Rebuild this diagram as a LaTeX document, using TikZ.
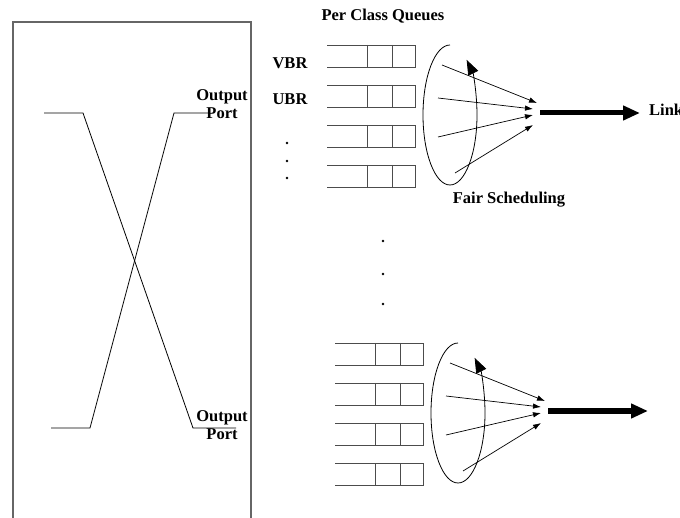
\documentclass[tikz,border=0pt]{standalone}
\usepackage{fontspec}
\setmainfont{Liberation Serif}
\usetikzlibrary{arrows.meta}

\tikzset{
    lbl/.style={font=\fontsize{16.5}{18}\selectfont\bfseries, inner sep=0pt},
    queue/.style={draw=black!70, line width=0.9pt},
    feed/.style={-{Latex[length=8pt,width=5.5pt]}, line width=0.7pt},
    rrarc/.style={line width=0.8pt, -{Triangle[length=15pt,width=11pt]}},
    linkarrow/.style={-{Triangle[length=17pt,width=14pt]}, line width=5pt},
}

\begin{document}
\begin{tikzpicture}[x=1pt,y=-1pt]
    \useasboundingbox (0,0) rectangle (680,518);
    % switch fabric
    \draw[draw=black!60, line width=1.3pt] (13,520) -- (13,22) -- (251,22) -- (251,520);
    \coordinate (inA) at (44,113);
    \coordinate (inB) at (51,428);
    \coordinate (outA) at (236,428);
    \coordinate (outB) at (208,113);
    \draw[line width=0.8pt] (inA) -- (83,113) -- (193,428) -- (outA);
    \draw[line width=0.8pt] (inB) -- (90,428) -- (174,113) -- (outB);
    \node[lbl, align=center] (port1) at (222,104) {Output\\Port};
    \node[lbl, align=center] (port2) at (222,425) {Output\\Port};
    % queues and scheduler, upper and lower output port
    \foreach \g/\dx/\dy in {up/0/0, low/8/298} {
        \begin{scope}[shift={(\dx,\dy)}]
            \foreach \r in {0,1,2,3} {
                \draw[queue] (327,45+40*\r) -- (415,45+40*\r) -- (415,67+40*\r) -- (327,67+40*\r)
                    (367,45+40*\r) -- (367,67+40*\r) (392,45+40*\r) -- (392,67+40*\r);
            }
            \draw[rrarc] (450,45) arc[start angle=-90, end angle=-412, x radius=27, y radius=70];
            \foreach \sx/\sy/\ex/\ey [count=\i] in {442/65/537/103, 438/98/533/109, 438/137/533/115, 455/173/533/125} {
                \coordinate (\g-src\i) at (\sx,\sy);
                \coordinate (\g-dst\i) at (\ex,\ey);
                \draw[feed] (\g-src\i) -- (\g-dst\i);
            }
            \coordinate (\g-mid) at (540,113);
            \coordinate (\g-out) at (640,113);
            \draw[linkarrow] (\g-mid) -- (\g-out);
        \end{scope}
    }
    \node[lbl] (pcq) at (383,16) {Per Class Queues};
    \node[lbl] (vbr) at (290,63) {VBR};
    \node[lbl] (ubr) at (290,99) {UBR};
    \node[lbl] (fair) at (509,200) {Fair Scheduling};
    \node[lbl, anchor=west] (link) at ([xshift=9pt,yshift=3pt]up-out) {Link};
    % dots
    \fill (287,143) circle (1.4pt) (287,161) circle (1.4pt) (287,178) circle (1.4pt);
    \fill (383,241) circle (1.4pt) (383,274) circle (1.4pt) (383,304) circle (1.4pt);
\end{tikzpicture}
\end{document}
